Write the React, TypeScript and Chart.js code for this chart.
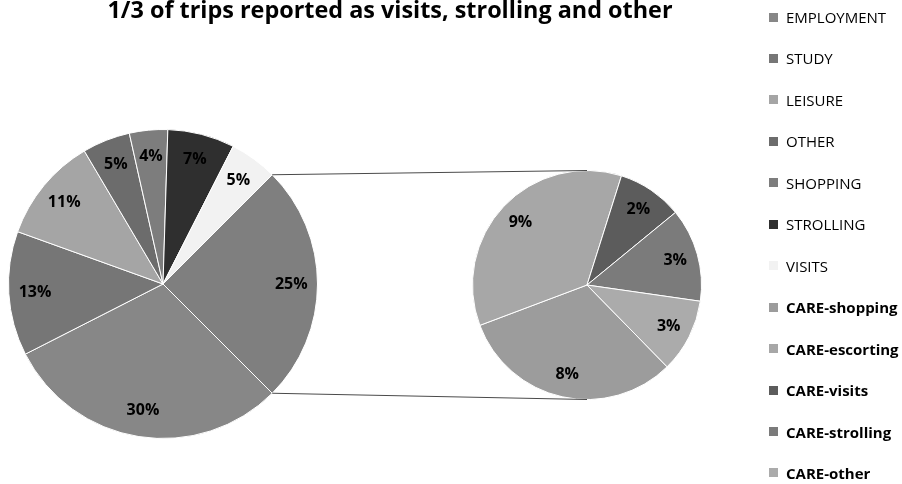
import React, { useEffect, useRef } from 'react';
import { Chart, registerables } from 'chart.js';
Chart.register(...registerables);

const TITLE = '1/3 of trips reported as visits, strolling and other';
const mainLabels = ['EMPLOYMENT', 'STUDY', 'LEISURE', 'OTHER', 'SHOPPING', 'STROLLING', 'VISITS'];
const mainValues = [30, 13, 11, 5, 4, 7, 5];
const mainColors = ['#878787', '#767676', '#a5a5a5', '#6c6c6c', '#7d7d7d', '#2f2f2f', '#f2f2f2'];
const careLabels = ['CARE-shopping', 'CARE-escorting', 'CARE-visits', 'CARE-strolling', 'CARE-other'];
const careValues = [7.9, 8.9, 2.3, 3.3, 2.6];
const careColors = ['#9c9c9c', '#a7a7a7', '#5c5c5c', '#7b7b7b', '#ababab'];
const combinedColor = '#7f7f7f';

const W = 902;
const H = 484;
const FONT = '"Open Sans", "DejaVu Sans", sans-serif';

const sum = (a: number[]) => a.reduce((s, v) => s + v, 0);
const careTotal = sum(careValues);
const grandTotal = sum(mainValues) + careTotal;
const pct = (v: number) => Math.round((v / grandTotal) * 100) + '%';

const makeLabelPlugin = (texts: string[], factor: number) => ({
  id: 'pctLabels',
  afterDatasetsDraw(chart: any) {
    const ctx = chart.ctx;
    const meta = chart.getDatasetMeta(0);
    ctx.save();
    ctx.font = `bold 16px ${FONT}`;
    ctx.fillStyle = '#000000';
    ctx.textAlign = 'center';
    ctx.textBaseline = 'middle';
    meta.data.forEach((arc: any, i: number) => {
      const p = arc.getProps(['x', 'y', 'startAngle', 'endAngle', 'outerRadius'], true);
      const mid = (p.startAngle + p.endAngle) / 2;
      const r = p.outerRadius * factor;
      ctx.fillText(texts[i], p.x + Math.cos(mid) * r, p.y + Math.sin(mid) * r);
    });
    ctx.restore();
  },
});

export default function App() {
  const mainRef = useRef<HTMLCanvasElement | null>(null);
  const careRef = useRef<HTMLCanvasElement | null>(null);

  useEffect(() => {
    document.body.style.margin = '0';
    document.body.style.background = '#ffffff';
    if (!mainRef.current || !careRef.current) return;

    const mainData = [...mainValues, careTotal];
    const mainChart = new Chart(mainRef.current, {
      type: 'pie',
      data: {
        labels: [...mainLabels, 'CARE'],
        datasets: [
          {
            data: mainData,
            backgroundColor: [...mainColors, combinedColor],
            borderColor: '#ffffff',
            borderWidth: 1,
          },
        ],
      },
      options: {
        responsive: false,
        maintainAspectRatio: false,
        animation: false,
        rotation: 135,
        layout: { padding: { left: 8, right: 584, top: 129, bottom: 45 } },
        plugins: { legend: { display: false }, tooltip: { enabled: false }, title: { display: false } },
      },
      plugins: [makeLabelPlugin(mainData.map(pct), 0.83)],
    });

    const connector = {
      id: 'connector',
      afterDraw(chart: any) {
        const m = mainChart.getDatasetMeta(0);
        const big = m.data[m.data.length - 1] as any;
        const b = big.getProps(['x', 'y', 'startAngle', 'endAngle', 'outerRadius'], true);
        const c = chart.getDatasetMeta(0).data[0] as any;
        const s = c.getProps(['x', 'y', 'outerRadius'], true);
        const ctx = chart.ctx;
        ctx.save();
        ctx.strokeStyle = '#4a4a4a';
        ctx.lineWidth = 1;
        ctx.beginPath();
        ctx.moveTo(b.x + Math.cos(b.startAngle) * b.outerRadius, b.y + Math.sin(b.startAngle) * b.outerRadius);
        ctx.lineTo(s.x, s.y - s.outerRadius);
        ctx.moveTo(b.x + Math.cos(b.endAngle) * b.outerRadius, b.y + Math.sin(b.endAngle) * b.outerRadius);
        ctx.lineTo(s.x, s.y + s.outerRadius);
        ctx.stroke();
        ctx.restore();
      },
    };

    const careChart = new Chart(careRef.current, {
      type: 'pie',
      data: {
        labels: careLabels,
        datasets: [
          {
            data: careValues,
            backgroundColor: careColors,
            borderColor: '#ffffff',
            borderWidth: 1,
          },
        ],
      },
      options: {
        responsive: false,
        maintainAspectRatio: false,
        animation: false,
        rotation: 135.6,
        layout: { padding: { left: 472, right: 200, top: 170, bottom: 84 } },
        plugins: { legend: { display: false }, tooltip: { enabled: false }, title: { display: false } },
      },
      plugins: [makeLabelPlugin(careValues.map(pct), 0.8), connector],
    });

    return () => {
      careChart.destroy();
      mainChart.destroy();
    };
  }, []);

  const legendItems = [
    ...mainLabels.map((l, i) => ({ label: l, color: mainColors[i], bold: false })),
    ...careLabels.map((l, i) => ({ label: l, color: careColors[i], bold: true })),
  ];

  return (
    <div style={{ position: 'relative', width: W, height: H, background: '#ffffff', overflow: 'hidden', fontFamily: FONT }}>
      <canvas ref={mainRef} width={W} height={H} style={{ position: 'absolute', left: 0, top: 0, width: W, height: H }} />
      <canvas ref={careRef} width={W} height={H} style={{ position: 'absolute', left: 0, top: 0, width: W, height: H }} />
      <div
        style={{
          position: 'absolute',
          left: 0,
          top: -4,
          width: 780,
          textAlign: 'center',
          fontWeight: 'bold',
          fontSize: 23.4,
          lineHeight: '26px',
          color: '#000000',
          whiteSpace: 'nowrap',
        }}
      >
        {TITLE}
      </div>
      {legendItems.map((it, i) => (
        <div
          key={it.label}
          style={{
            position: 'absolute',
            left: 769,
            top: 17 + i * 41.45 - 10,
            height: 20,
            display: 'flex',
            alignItems: 'center',
            fontSize: 15,
            fontWeight: it.bold ? 'bold' : 'normal',
            color: '#000000',
            whiteSpace: 'nowrap',
          }}
        >
          <span style={{ display: 'inline-block', width: 9, height: 9, background: it.color, marginRight: 8 }} />
          <span>{it.label}</span>
        </div>
      ))}
    </div>
  );
}
